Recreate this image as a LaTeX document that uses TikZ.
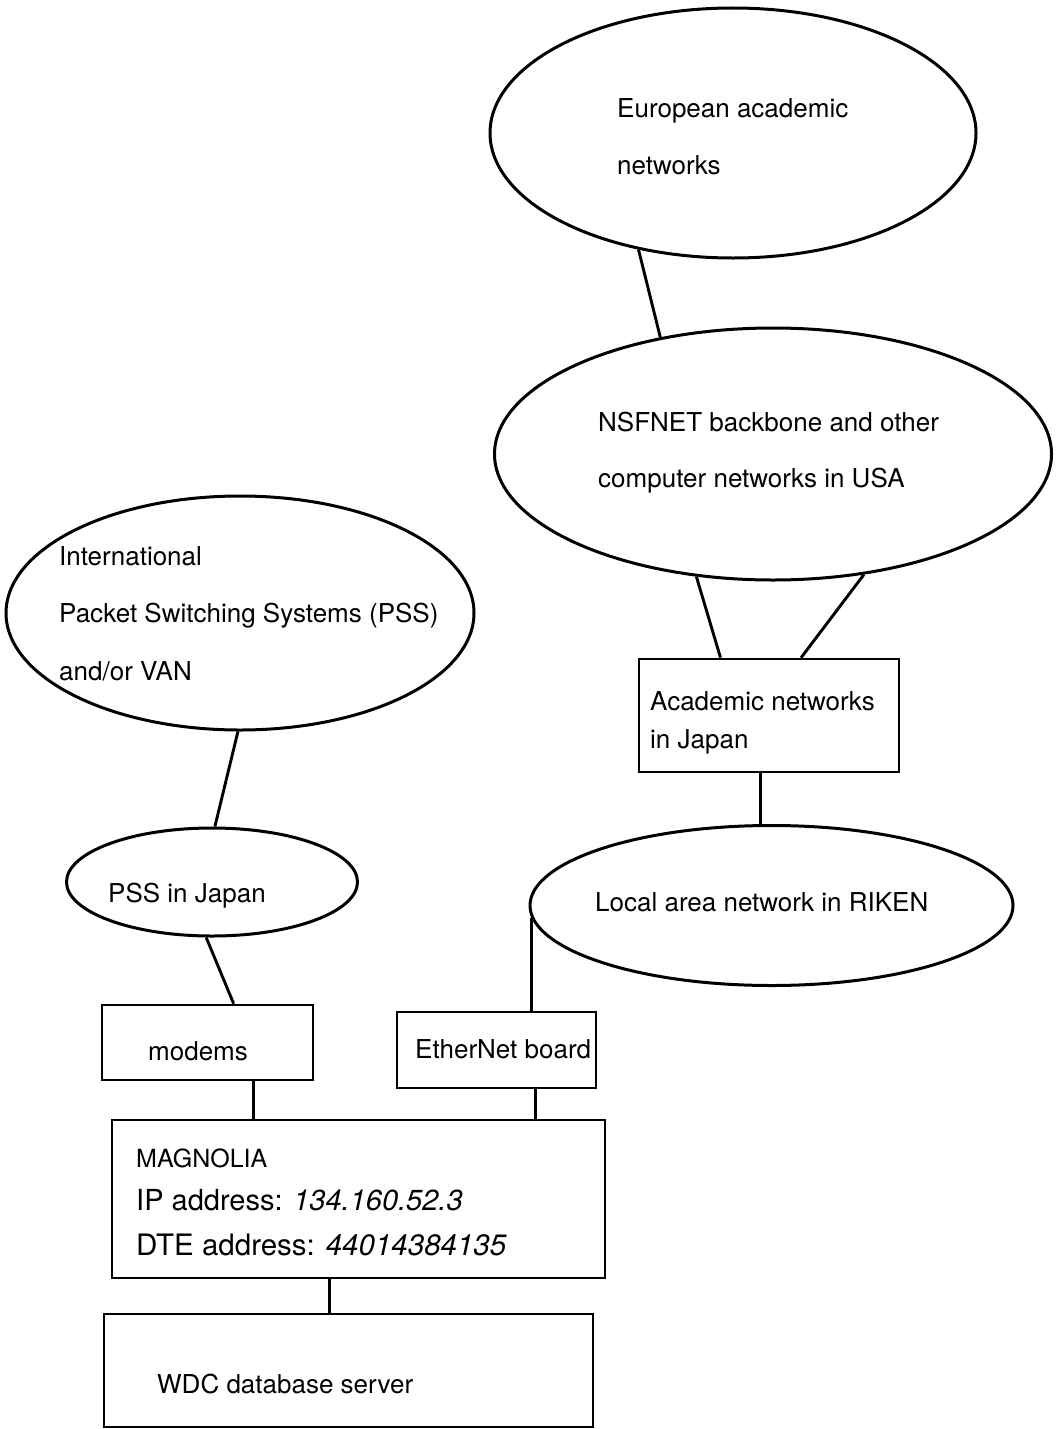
\documentclass[tikz,border=0pt]{standalone}
\usepackage{fontspec}
\setmainfont{TeX Gyre Heros}
\usetikzlibrary{shapes.geometric}
\begin{document}
\begin{tikzpicture}[x=1pt,y=-1pt,
  oval/.style={draw,ellipse,line width=3pt,inner sep=0pt},
  boxnode/.style={draw,rectangle,line width=2.6pt,inner sep=0pt},
  link/.style={line width=2.9pt},
  txt/.style={anchor=base west,inner sep=0pt,font=\fontsize{26}{30}\selectfont},
  bigtxt/.style={anchor=base west,inner sep=0pt,font=\fontsize{29}{34}\selectfont}]
\useasboundingbox (0,0) rectangle (1058,1429);

% shapes
\node[oval,minimum width=486pt,minimum height=250pt] (eu) at (733,133) {};
\node[oval,minimum width=557pt,minimum height=252pt] (ns) at (773,454) {};
\node[oval,minimum width=468pt,minimum height=234pt] (intl) at (240,613) {};
\node[oval,minimum width=291pt,minimum height=108pt] (pj) at (212,882) {};
\node[oval,minimum width=483pt,minimum height=160pt] (lan) at (771.5,905.5) {};
\node[boxnode,minimum width=260pt,minimum height=113pt] (acad) at (769,715.5) {};
\node[boxnode,minimum width=211pt,minimum height=75pt] (modems) at (207.5,1042.5) {};
\node[boxnode,minimum width=199pt,minimum height=76pt] (eth) at (496.5,1050) {};
\node[boxnode,minimum width=493pt,minimum height=158pt] (mag) at (358.5,1199) {};
\node[boxnode,minimum width=489pt,minimum height=113pt] (wdc) at (348.5,1370.5) {};

% texts
\node[txt] (t1) at (617,117) {European academic};
\node[txt] (t2) at (617,174) {networks};
\node[txt] (t3) at (598,431) {NSFNET backbone and other};
\node[txt] (t4) at (598,487) {computer networks in USA};
\node[txt] (t5) at (59,565) {International};
\node[txt] (t6) at (59,622) {Packet Switching Systems (PSS)};
\node[txt] (t7) at (59,680) {and/or VAN};
\node[txt] (t8) at (650,710) {Academic networks};
\node[txt] (t9) at (650,748) {in Japan};
\node[txt] (t10) at (108,902) {PSS in Japan};
\node[txt] (t11) at (595,911) {Local area network in RIKEN};
\node[txt] (t12) at (148,1060) {modems};
\node[txt] (t13) at (415,1058) {EtherNet board};
\node[anchor=base west,inner sep=0pt,font=\fontsize{25}{30}\selectfont] (t14) at (136,1167) {MAGNOLIA};
\node[bigtxt] (t15) at (136,1210) {IP address: \textit{134.160.52.3}};
\node[anchor=base west,inner sep=0pt,font=\fontsize{29.5}{34}\selectfont] (t16) at (136,1255) {DTE address: \textit{44014384135}};
\node[txt] (t17) at (157,1393) {WDC database server};

% connectors
\draw[link] (eu.231.6) -- (ns.134.75);
\draw[link] (ns.238.8) -- (acad.130.9);
\draw[link] (ns.307.6) -- (acad.61.25);
\draw[link] (acad.262.9) -- (acad.262.9 |- lan.north);
\draw[link] (lan.183) -- (lan.183 |- eth.north);
\draw[link] (intl.269) -- (pj.87.8);
\draw[link] (pj.264.7) -- (modems.56.8);
\draw[link] (modems.320.9) -- (modems.320.9 |- mag.north);
\draw[link] (eth.315.4) -- (eth.315.4 |- mag.north);
\draw[link] (mag.250.2) -- (mag.250.2 |- wdc.north);
\end{tikzpicture}
\end{document}
